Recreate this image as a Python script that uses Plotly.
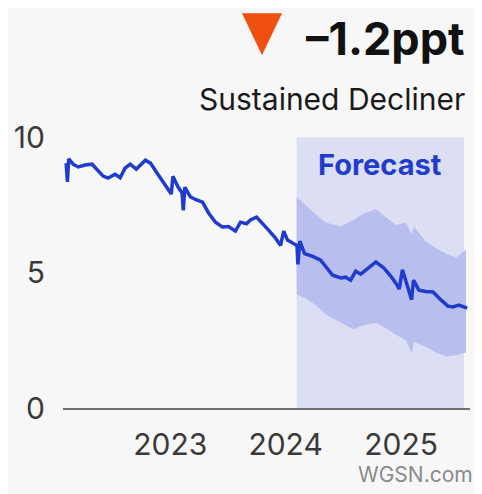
import plotly.graph_objects as go

# ---- data ----
line_dates = [
    "2022-02-05", "2022-02-09", "2022-02-13", "2022-02-27", "2022-03-15", "2022-04-06",
    "2022-04-28", "2022-05-14", "2022-06-02", "2022-06-18", "2022-07-10", "2022-07-26",
    "2022-08-11", "2022-08-27", "2022-09-15", "2022-10-14", "2022-10-30", "2022-11-24",
    "2022-12-16", "2022-12-30", "2023-01-04", "2023-01-09", "2023-01-26", "2023-02-07",
    "2023-02-11", "2023-02-16", "2023-03-05", "2023-03-21", "2023-04-13", "2023-05-02",
    "2023-05-24", "2023-06-15", "2023-07-04", "2023-07-26", "2023-08-11", "2023-08-30",
    "2023-09-12", "2023-10-01", "2023-10-20", "2023-11-08", "2023-11-30", "2023-12-16",
    "2023-12-26", "2024-01-07", "2024-01-23", "2024-02-06", "2024-02-09", "2024-02-15",
    "2024-03-01", "2024-03-27", "2024-04-21", "2024-05-10", "2024-05-29", "2024-06-24",
    "2024-07-09", "2024-07-25", "2024-08-10", "2024-08-26", "2024-09-11", "2024-10-13",
    "2024-11-07", "2024-11-29", "2024-12-19", "2024-12-26", "2025-01-05", "2025-01-19",
    "2025-02-03", "2025-02-09", "2025-02-26", "2025-03-20", "2025-04-12", "2025-05-07",
    "2025-05-29", "2025-06-14", "2025-07-03", "2025-07-29",
]
line_values = [
    9.04, 8.35, 9.2, 9.0, 8.9, 8.97,
    9.0, 8.78, 8.56, 8.49, 8.63, 8.5,
    8.86, 9.0, 8.82, 9.15, 9.04, 8.6,
    8.23, 8.0, 7.9, 8.55, 8.15, 7.95,
    7.3, 8.15, 7.8, 7.7, 7.6, 7.2,
    6.86, 6.68, 6.7, 6.53, 6.86, 6.8,
    6.94, 7.05, 6.83, 6.57, 6.27, 6.0,
    6.53, 6.2, 6.09, 6.0, 5.3, 6.16,
    5.7, 5.6, 5.46, 5.2, 4.9, 4.8,
    4.83, 4.72, 5.05, 4.94, 5.1, 5.39,
    5.17, 4.87, 4.54, 4.39, 5.1, 4.54,
    4.0, 4.72, 4.35, 4.3, 4.28, 3.99,
    3.76, 3.73, 3.8, 3.69,
]

band_dates = [
    "2024-02-05", "2024-03-04", "2024-04-05", "2024-05-07", "2024-06-24", "2024-08-04",
    "2024-09-01", "2024-10-13", "2024-11-13", "2024-12-15", "2025-01-16", "2025-02-04",
    "2025-02-10", "2025-03-20", "2025-04-21", "2025-05-23", "2025-06-24", "2025-07-25",
]
band_upper = [7.8, 7.5, 7.15, 6.85, 6.7, 6.95, 7.15, 7.35, 7.05, 6.75, 6.85, 6.4,
              6.7, 6.15, 5.9, 5.7, 5.55, 5.85]
band_lower = [4.2, 4.05, 3.8, 3.45, 3.15, 2.9, 3.05, 3.15, 2.95, 2.7, 2.5, 2.0,
              2.45, 2.25, 2.05, 1.9, 1.95, 2.05]

forecast_start = "2024-02-05"
forecast_end = "2025-07-19"
forecast_top = 10

x_tick_vals = ["2023-01-01", "2024-01-01", "2025-01-01"]
x_tick_text = ["2023", "2024", "2025"]
y_tick_vals = [0, 5, 10]
y_tick_text = ["0", "5", "10"]

change_text = "–1.2ppt"
status_text = "Sustained Decliner"

# ---- styles ----
BG = "#f7f7f7"
LINE = "#1f3ccc"
RECT = "#dcdff4"
BAND = "#b8beee"
FONT = "Inter"

fig = go.Figure()

fig.add_trace(go.Scatter(
    x=band_dates + band_dates[::-1],
    y=band_upper + band_lower[::-1],
    fill="toself", fillcolor=BAND, line=dict(width=0),
    mode="lines", hoverinfo="skip", showlegend=False,
))
fig.add_trace(go.Scatter(
    x=line_dates, y=line_values, mode="lines",
    line=dict(color=LINE, width=3.5), showlegend=False,
))

fig.add_shape(type="rect", xref="x", yref="y", x0=forecast_start, x1=forecast_end,
              y0=0, y1=forecast_top, fillcolor=RECT, line=dict(width=0), layer="below")

# triangle marker
fig.add_shape(type="path", xref="paper", yref="paper",
              xsizemode="pixel", ysizemode="pixel",
              xanchor=0.489, yanchor=1.34,
              path="M -20,21 L 20,21 L 0,-21 Z",
              fillcolor="#f0500f", line=dict(width=0))

fig.add_annotation(x=0.993, y=1.326, xref="paper", yref="paper",
                   text=f"<b>{change_text}</b>", showarrow=False,
                   xanchor="right", yanchor="middle",
                   font=dict(family=FONT, size=45, color="#111111"))
fig.add_annotation(x=0.993, y=1.1075, xref="paper", yref="paper",
                   text=status_text, showarrow=False,
                   xanchor="right", yanchor="middle",
                   font=dict(family=FONT, size=30, color="#1a1a1a"))
fig.add_annotation(x="2024-10-25", y=9.0, xref="x", yref="y",
                   text="<b>Forecast</b>", showarrow=False,
                   xanchor="center", yanchor="middle",
                   font=dict(family=FONT, size=29, color=LINE))
fig.add_annotation(x=1.012, y=-0.24, xref="paper", yref="paper",
                   text="WGSN.com", showarrow=False,
                   xanchor="right", yanchor="middle",
                   font=dict(family=FONT, size=21, color="#8a8a8a"))

# page body has an 8px margin, so the figure is 8px smaller and margins shifted
fig.update_layout(
    width=474, height=486,
    margin=dict(l=55, r=12, t=121, b=86),
    paper_bgcolor=BG, plot_bgcolor=BG,
    showlegend=False,
    font=dict(family=FONT, color="#333333"),
)
fig.update_xaxes(
    type="date", range=["2022-01-26", "2025-08-07"],
    tickvals=x_tick_vals, ticktext=x_tick_text,
    showgrid=False, zeroline=False, automargin=False,
    showline=True, linecolor="#707070", linewidth=2,
    ticks="outside", ticklen=9, tickcolor="rgba(0,0,0,0)",
    tickfont=dict(family=FONT, size=30, color="#3a3a3a"),
)
fig.update_yaxes(
    range=[0, 10.3], tickvals=y_tick_vals, ticktext=y_tick_text,
    showgrid=False, zeroline=False, showline=False, automargin=False,
    ticks="outside", ticklen=11, tickcolor="rgba(0,0,0,0)",
    tickfont=dict(family=FONT, size=30, color="#3a3a3a"),
)

fig.write_html("out.html")
